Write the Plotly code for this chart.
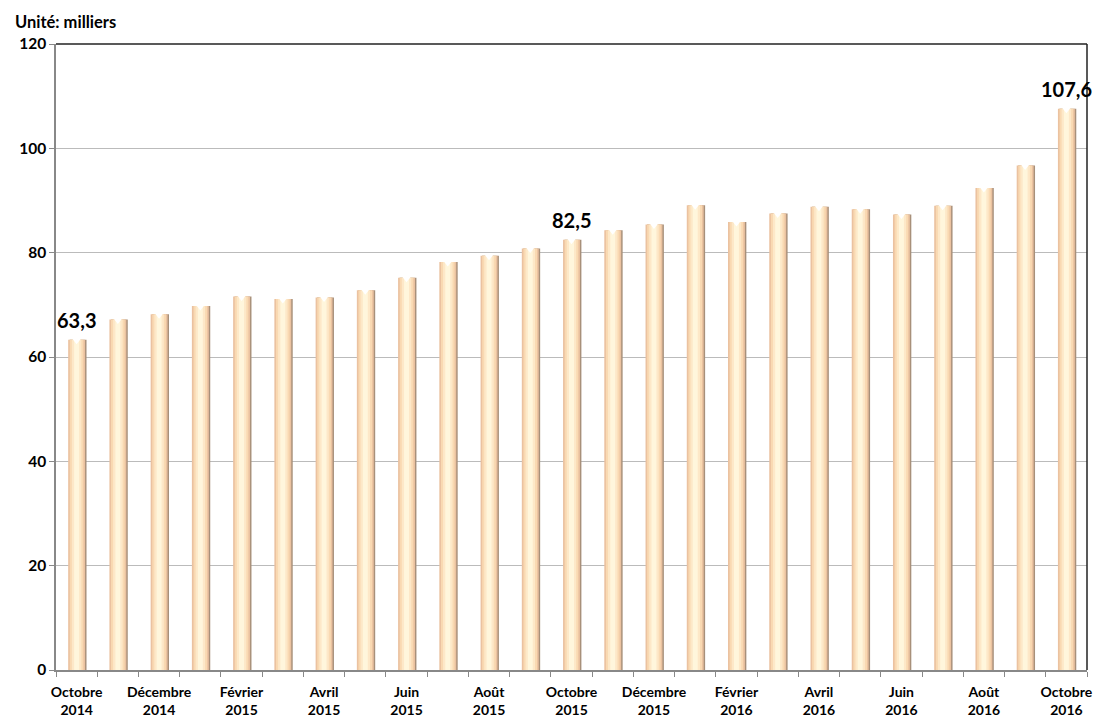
import plotly.graph_objects as go

months = ["Octobre 2014", "Novembre 2014", "Décembre 2014", "Janvier 2015", "Février 2015",
          "Mars 2015", "Avril 2015", "Mai 2015", "Juin 2015", "Juillet 2015", "Août 2015",
          "Septembre 2015", "Octobre 2015", "Novembre 2015", "Décembre 2015", "Janvier 2016",
          "Février 2016", "Mars 2016", "Avril 2016", "Mai 2016", "Juin 2016", "Juillet 2016",
          "Août 2016", "Septembre 2016", "Octobre 2016"]
values = [63.3, 67.2, 68.2, 69.8, 71.6, 71.1, 71.4, 72.8, 75.2, 78.2, 79.4, 80.8, 82.5,
          84.3, 85.4, 89.1, 85.9, 87.5, 88.8, 88.3, 87.3, 89.0, 92.4, 96.7, 107.6]
tick_text = ["Octobre<br>2014", "", "Décembre<br>2014", "", "Février<br>2015", "", "Avril<br>2015", "",
             "Juin<br>2015", "", "Août<br>2015", "", "Octobre<br>2015", "", "Décembre<br>2015", "",
             "Février<br>2016", "", "Avril<br>2016", "", "Juin<br>2016", "", "Août<br>2016", "",
             "Octobre<br>2016"]
labelled = [0, 12, 24]
unit_label = "Unité: milliers"

FONT = "Lato"
fig = go.Figure()

layers = [
    (0.41, 0.035, "#A8907A"),
    (0.41, 0.0, "#EBC2A0"),
    (0.33, 0.0, "#F9D9B2"),
    (0.23, 0.0, "#FDE8C8"),
    (0.12, 0.0, "#FFF6DC"),
]
for w, off, col in layers:
    fig.add_trace(go.Bar(x=months, y=values, width=w, offset=-w / 2 + off,
                         marker=dict(color=col, line=dict(width=0)),
                         hoverinfo="skip", showlegend=False))

# small white notch at the top of each cylinder
fig.add_trace(go.Scatter(x=months, y=values, mode="markers",
                         marker=dict(symbol="triangle-down", size=9, color="white",
                                     line=dict(width=0)),
                         hoverinfo="skip", showlegend=False, cliponaxis=False))

for i in labelled:
    fig.add_annotation(x=months[i], y=values[i], text=f"{values[i]:.1f}".replace(".", ","),
                       showarrow=False, yanchor="bottom", yshift=6,
                       font=dict(family=FONT, size=20, color="black", weight="bold"))

fig.add_annotation(xref="paper", yref="paper", x=-0.042, y=1.016, xanchor="left", yanchor="bottom",
                   text=unit_label, showarrow=False,
                   font=dict(family=FONT, size=16.5, color="black", weight="bold"))

fig.add_shape(type="line", xref="paper", yref="paper", x0=0, x1=1, y0=1, y1=1,
              line=dict(color="#222222", width=1.5))
fig.add_shape(type="line", xref="paper", yref="paper", x0=1, x1=1, y0=0, y1=1,
              line=dict(color="#222222", width=1.5))

fig.update_layout(
    width=1096, height=717,
    margin=dict(l=56, r=9, t=44, b=47),
    paper_bgcolor="white", plot_bgcolor="white",
    barmode="overlay", bargap=0.5,
    font=dict(family=FONT, color="black"),
)
fig.update_xaxes(type="category", tickmode="array", tickvals=months, ticktext=tick_text,
                 tickson="boundaries", ticks="outside", ticklen=5, tickcolor="#888888",
                 showline=True, linecolor="#888888", linewidth=1.5, showgrid=False,
                 tickangle=0, range=[-0.5, len(months) - 0.5], automargin=False,
                 ticklabelstandoff=8,
                 tickfont=dict(family=FONT, size=14, color="black", weight="bold"))
fig.update_yaxes(range=[0, 120], dtick=20, showgrid=True, gridcolor="#BBBBBB", gridwidth=1.2,
                 ticks="outside", ticklen=5, tickcolor="#888888", automargin=False,
                 showline=True, linecolor="#888888", linewidth=1.5, zeroline=False,
                 tickfont=dict(family=FONT, size=15.5, color="black", weight="bold"))

fig.write_html("out.html", config={"displayModeBar": False},
               post_script="document.body.style.margin='0';document.body.style.overflow='hidden';")
